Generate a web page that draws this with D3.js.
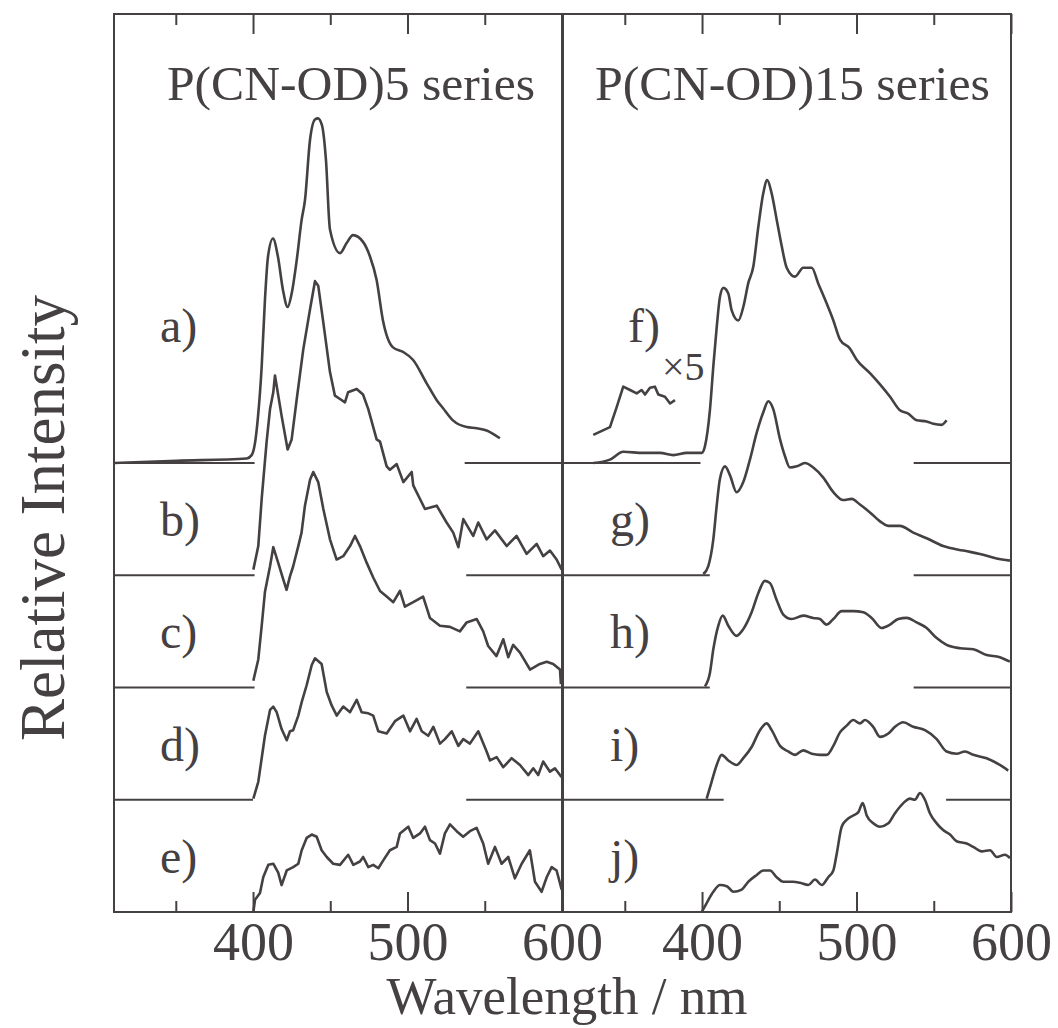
<!DOCTYPE html>
<html lang="en">
<head>
  <meta charset="UTF-8">
  <title>P(CN-OD) emission spectra</title>
  <style>
    html, body {
      margin: 0;
      background-color: #ffffff;
    }
    svg text {
      font-family: "Liberation Serif", "Times New Roman", serif;
      fill: #454042;
    }
  </style>
</head>
<body>
  <svg id="chart" width="1058" height="1028"></svg>

  <script src="https://cdnjs.cloudflare.com/ajax/libs/d3/7.8.5/d3.min.js"></script>
  <script>
    // wavelength (nm), relative intensity (one unit = one strip of the stack)
    const seriesA = [[310,0],[350.6,0.02],[395.9,0.04],[399.1,0.07],[401.3,0.18],[403.2,0.41],[405.6,0.86],[407.7,1.45],[409.7,1.84],[412.9,2.0],[416.1,1.84],[419.4,1.54],[422.4,1.39],[425,1.51],[428.3,1.81],[431.5,2.17],[433.6,2.34],[436.9,2.88],[440.1,3.06],[442,3.07],[444.6,3.01],[447.2,2.7],[449.8,2.08],[456.3,1.87],[460.6,1.96],[464.7,2.03],[471.2,1.97],[475.7,1.84],[480,1.63],[484.1,1.27],[490.6,1.03],[497.1,0.99],[503.5,0.92],[512.4,0.71],[518.9,0.56],[522.9,0.49],[529.4,0.38],[538.3,0.32],[544.8,0.31],[551.2,0.29],[559.8,0.22]];
    const seriesB = [[400.2,0.05],[403.4,0.26],[405.6,0.68],[408.8,1.19],[411,1.48],[413.1,1.63],[414.2,1.78],[418.5,1.42],[422.4,1.12],[425,1.21],[428.3,1.57],[432.5,2.01],[436.9,2.37],[440.1,2.62],[442.2,2.58],[445.5,2.25],[449.8,1.81],[453,1.6],[456.3,1.57],[459.5,1.54],[461.5,1.63],[467.1,1.66],[471.2,1.61],[474.6,1.48],[480,1.21],[482.2,1.19],[486.5,0.97],[488.6,0.94],[493,0.99],[497.3,0.83],[502.7,0.92],[503.7,0.8],[511.3,0.59],[518.9,0.62],[525.3,0.47],[529.6,0.38],[532.9,0.25],[536.1,0.5],[542.5,0.35],[545.8,0.47],[551.2,0.32],[556.6,0.4],[564.2,0.26],[570.6,0.35],[577.1,0.19],[583.6,0.28],[587.8,0.17],[592.2,0.22],[596.5,0.14],[599.8,0.05]];
    const seriesC = [[400.2,0.06],[403.4,0.25],[405.6,0.55],[407.7,0.85],[411,1.08],[413.1,1.25],[416.3,1.11],[419.6,0.96],[421.7,0.87],[423.9,0.99],[426,1.08],[429.3,1.26],[431.4,1.38],[433.6,1.62],[436.9,1.85],[439,1.92],[442.2,1.83],[445.5,1.59],[449.8,1.32],[454.1,1.14],[458.4,1.17],[462.8,1.26],[466,1.35],[469.2,1.26],[473.6,1.11],[477.8,0.98],[482.2,0.86],[486.5,0.81],[490.8,0.76],[495.1,0.86],[498.3,0.72],[503.7,0.76],[510.1,0.81],[514.5,0.62],[521,0.55],[527.5,0.54],[533.9,0.5],[538.3,0.58],[544.8,0.61],[549,0.5],[552.2,0.37],[557.6,0.28],[562,0.43],[565.2,0.27],[568.4,0.38],[572.8,0.31],[579.3,0.16],[585.7,0.21],[590.1,0.23],[594.3,0.21],[598.7,0.16],[599.3,0.03]];
    const seriesD = [[400.2,0.01],[403.4,0.16],[405.6,0.37],[407.7,0.57],[411,0.8],[413.1,0.83],[415.3,0.78],[418.5,0.63],[421.8,0.53],[423.9,0.61],[426,0.62],[429.3,0.75],[431.5,0.87],[434.7,1.02],[438,1.2],[440.1,1.26],[444.4,1.21],[447.7,0.96],[450.9,0.84],[454.2,0.75],[458.4,0.83],[462.8,0.78],[467.1,0.89],[470.3,0.78],[474.6,0.77],[477.8,0.75],[481.1,0.61],[486.5,0.59],[491.9,0.7],[497.3,0.75],[501.6,0.61],[505.9,0.72],[509.2,0.61],[513.4,0.57],[516.7,0.65],[521,0.5],[524.2,0.54],[528.6,0.61],[532.9,0.48],[536.1,0.54],[540.4,0.5],[545.8,0.61],[551.2,0.43],[553.4,0.35],[557.7,0.38],[562,0.29],[567.4,0.37],[572.8,0.31],[578.2,0.22],[581.4,0.28],[584.6,0.22],[587.8,0.34],[592.2,0.25],[595.4,0.28],[598.7,0.22],[600,0.2]];
    const seriesE = [[400.2,0],[401.3,0.11],[404.5,0.17],[406.6,0.31],[409.9,0.42],[413.1,0.43],[416.3,0.35],[418.5,0.24],[421.8,0.37],[426,0.4],[429.3,0.43],[431.5,0.55],[434.7,0.66],[438,0.69],[441.2,0.67],[444.4,0.55],[447.7,0.49],[451.9,0.43],[456.3,0.42],[461.6,0.51],[464.9,0.42],[469.2,0.45],[471.3,0.49],[474.6,0.4],[477.8,0.42],[481.1,0.39],[484.3,0.46],[488.6,0.55],[493,0.58],[495.1,0.7],[500.5,0.76],[503.7,0.66],[508.1,0.7],[511.3,0.76],[514.5,0.64],[517.8,0.61],[521,0.52],[524.2,0.7],[527.5,0.78],[531.8,0.72],[536,0.67],[540.4,0.72],[544.7,0.75],[549,0.61],[552.2,0.43],[556.6,0.58],[560.9,0.43],[565.2,0.49],[569.5,0.3],[573.9,0.43],[579.2,0.55],[582.5,0.27],[586.8,0.18],[590.1,0.31],[593.3,0.4],[596.5,0.37],[599.8,0.2]];

    const seriesF = [[329.6,0],[340.4,0.03],[349,0.1],[362,0.09],[372.8,0.09],[381.4,0.07],[390.1,0.09],[399.8,0.09],[401.9,0.15],[405.1,0.47],[407.3,0.86],[409.5,1.21],[411.6,1.48],[413.8,1.56],[417,1.51],[419.2,1.36],[423.5,1.27],[426.7,1.39],[429.9,1.6],[433.2,1.75],[436.4,2.1],[439.6,2.4],[442.2,2.52],[445.1,2.4],[448.3,2.17],[451.6,1.93],[454.8,1.74],[460.2,1.66],[465.5,1.74],[471,1.74],[475.2,1.6],[480.7,1.42],[485,1.27],[489.3,1.1],[495.7,1.02],[500.1,0.92],[508.7,0.8],[515.2,0.7],[521.7,0.59],[528.1,0.47],[533.5,0.44],[538.9,0.38],[545.4,0.37],[549.7,0.35],[555.1,0.34],[558.3,0.38]];
    const seriesF5 = [[329.6,0.25],[340.4,0.32],[344.8,0.5],[349,0.68],[353.4,0.65],[357.7,0.62],[360.9,0.65],[363.1,0.61],[366.3,0.67],[369.5,0.68],[371.7,0.61],[376,0.59],[379.3,0.53],[382.5,0.56]];
    const seriesG = [[400.8,0.01],[404,0.08],[407.3,0.32],[409.5,0.62],[411.6,0.86],[414.9,0.97],[418.1,0.89],[422.4,0.74],[426.7,0.83],[431,1.03],[435.4,1.27],[439.6,1.45],[442.9,1.55],[446.1,1.48],[450.5,1.21],[453.7,1.06],[456.9,0.96],[461.3,0.97],[466.6,1.0],[472,0.96],[478.5,0.87],[485,0.74],[491.4,0.67],[496.9,0.68],[502.2,0.63],[508.7,0.56],[515.2,0.48],[520.5,0.44],[528.1,0.44],[536.7,0.38],[545.4,0.33],[556.1,0.26],[569.1,0.22],[579.9,0.19],[590.7,0.15],[599.3,0.13]];
    const seriesH = [[401.9,0.01],[405.1,0.13],[407.3,0.34],[410.5,0.55],[413.4,0.64],[417,0.55],[422.4,0.46],[426.7,0.52],[432.1,0.67],[436.4,0.84],[440.7,0.95],[444,0.93],[448.3,0.78],[452.6,0.65],[458,0.61],[465.5,0.64],[472,0.62],[476.3,0.61],[480.7,0.56],[485,0.61],[490.4,0.68],[497.9,0.68],[504.4,0.67],[509.8,0.62],[516.3,0.53],[521.7,0.56],[527,0.61],[532.5,0.62],[538.9,0.58],[545.4,0.53],[551.9,0.44],[558.3,0.38],[567,0.35],[575.6,0.34],[584.2,0.29],[592.8,0.27],[599.3,0.23]];
    const seriesI = [[403,0.01],[406.2,0.16],[409.5,0.31],[412.7,0.4],[417,0.35],[422.4,0.31],[426.7,0.37],[432.1,0.47],[437.5,0.62],[441.8,0.68],[445.1,0.62],[450.5,0.48],[455.8,0.43],[460.2,0.4],[465.5,0.44],[471,0.41],[476.3,0.4],[480.7,0.4],[485,0.48],[489.3,0.6],[493.6,0.66],[497.9,0.71],[502.2,0.68],[505.5,0.71],[510.8,0.65],[515.2,0.56],[520.6,0.59],[524.9,0.65],[530.3,0.69],[536.7,0.65],[544.3,0.62],[551.9,0.54],[558.3,0.43],[564.8,0.41],[570.2,0.43],[575.6,0.4],[584.2,0.37],[592.8,0.31],[598.2,0.26]];
    const seriesJ = [[399.8,0],[403,0.08],[407.3,0.18],[411.6,0.24],[416,0.23],[420.3,0.18],[425.7,0.2],[430,0.27],[435.4,0.33],[439.7,0.37],[444,0.37],[448.3,0.31],[452.6,0.27],[459.1,0.27],[463.4,0.26],[468.8,0.24],[473.1,0.29],[477.5,0.24],[481.7,0.31],[485,0.37],[487.2,0.52],[490.4,0.76],[493.6,0.82],[497.9,0.86],[501.2,0.89],[504,0.97],[506.6,0.86],[510.8,0.79],[515.2,0.76],[520.6,0.79],[524.9,0.88],[530.3,0.97],[534.6,1.01],[537.8,1.0],[541.1,1.06],[544.3,1.0],[547.5,0.88],[551.9,0.79],[556.1,0.73],[560.5,0.69],[564.8,0.63],[571.3,0.61],[575.6,0.58],[581.1,0.54],[586.4,0.55],[590.8,0.49],[596.1,0.51],[599.3,0.48]];

    const leftLabels = ['a)', 'b)', 'c)', 'd)', 'e)'];
    const rightLabels = ['f)', 'g)', 'h)', 'i)', 'j)'];
    const stackOffsets = [4, 3, 2, 1, 0];
    // which spectra are noisy (drawn with straight segments)
    const leftNoisy = [false, true, true, true, true];
    const rightNoisy = [false, false, false, false, false];
    // baseline stubs per row: [offset, start nm, end nm]
    const leftBaselines = [[4,310,401],[4,537,600],[3,310,401],[3,538,600],[2,310,401],[2,538,600],[1,310,400],[1,538,600]];
    const rightBaselines = [[4,310,399],[4,537,600],[3,310,405],[3,537,600],[2,310,405],[2,537,600],[1,310,414],[1,558,600]];
    const majorTicks = [400, 500, 600];
    const minorTicks = [350, 450, 550];

    const svg = d3.select('#chart');
    const ink = '#454042';
    const plotTop = 14, plotBottom = 912;

    const y = d3.scaleLinear().domain([0, 8]).range([plotBottom, plotTop]);

    const panels = [
      {x0: 114, x1: 562, series: [seriesA, seriesB, seriesC, seriesD, seriesE], noisy: leftNoisy, labels: leftLabels, baselines: leftBaselines, title: 'P(CN-OD)5 series', titleX: 167, titleLen: 368},
      {x0: 563, x1: 1011, series: [seriesF, seriesG, seriesH, seriesI, seriesJ], noisy: rightNoisy, labels: rightLabels, baselines: rightBaselines, title: 'P(CN-OD)15 series', titleX: 595, titleLen: 395}
    ];

    panels.forEach((p, pi) => {
      const x = d3.scaleLinear().domain([310, 600]).range([p.x0, p.x1]);
      const g = svg.append('g');

      g.append('rect')
        .attr('x', p.x0).attr('y', plotTop)
        .attr('width', p.x1 - p.x0).attr('height', plotBottom - plotTop)
        .attr('fill', 'none').attr('stroke', ink).attr('stroke-width', 2);

      // bottom axis, major ticks with labels
      const bAxis = g.append('g').attr('transform', `translate(0,${plotBottom})`)
        .call(d3.axisBottom(x).tickValues(majorTicks).tickSizeInner(-20).tickSizeOuter(0).tickFormat(d3.format('d')));
      bAxis.select('.domain').remove();
      bAxis.selectAll('line').attr('stroke', ink).attr('stroke-width', 2);
      bAxis.selectAll('text').attr('y', 48).attr('dy', 0)
        .attr('font-size', 54).attr('fill', ink);

      const bMinor = g.append('g').attr('transform', `translate(0,${plotBottom})`)
        .call(d3.axisBottom(x).tickValues(minorTicks).tickSizeInner(-11).tickSizeOuter(0).tickFormat(''));
      bMinor.select('.domain').remove();
      bMinor.selectAll('line').attr('stroke', ink).attr('stroke-width', 2);

      // top axis ticks
      [[majorTicks, 20], [minorTicks, 11]].forEach(([vals, len]) => {
        const t = g.append('g').attr('transform', `translate(0,${plotTop})`)
          .call(d3.axisTop(x).tickValues(vals).tickSizeInner(-len).tickSizeOuter(0).tickFormat(''));
        t.select('.domain').remove();
        t.selectAll('line').attr('stroke', ink).attr('stroke-width', 2);
      });

      // baseline stubs
      g.selectAll('line.base')
        .data(p.baselines)
        .join('line')
        .attr('class', 'base')
        .attr('x1', d => x(d[1])).attr('x2', d => x(d[2]))
        .attr('y1', d => y(d[0])).attr('y2', d => y(d[0]))
        .attr('stroke', ink).attr('stroke-width', 2);

      // spectra
      p.series.forEach((s, i) => {
        const off = stackOffsets[i];
        const line = d3.line()
          .x(d => x(d[0]))
          .y(d => y(off + d[1]))
          .curve(p.noisy[i] ? d3.curveLinear : d3.curveMonotoneX);
        g.append('path')
          .attr('d', line(s))
          .attr('fill', 'none')
          .attr('stroke', ink)
          .attr('stroke-width', 2.6)
          .attr('stroke-linejoin', 'round');
      });

      if (pi === 1) {
        const line = d3.line().x(d => x(d[0])).y(d => y(4 + d[1]));
        g.append('path')
          .attr('d', line(seriesF5))
          .attr('fill', 'none')
          .attr('stroke', ink)
          .attr('stroke-width', 2.6)
          .attr('stroke-linejoin', 'round');
      }

      // row labels
      const labelX = pi === 0 ? 160 : 610;
      const labelY = [342, 536, 648, 761, 873];
      g.selectAll('text.row')
        .data(p.labels)
        .join('text')
        .attr('class', 'row')
        .attr('x', (d, i) => (pi === 1 && i === 0) ? 628 : labelX)
        .attr('y', (d, i) => labelY[i])
        .attr('font-size', 48)
        .text(d => d);

      g.append('text')
        .attr('x', p.titleX).attr('y', 100)
        .attr('font-size', 48)
        .attr('textLength', p.titleLen)
        .attr('lengthAdjust', 'spacingAndGlyphs')
        .text(p.title);
    });

    svg.append('text')
      .attr('x', 662).attr('y', 380)
      .attr('font-size', 40)
      .text('×5');

    svg.append('text')
      .attr('x', 567).attr('y', 1014)
      .attr('text-anchor', 'middle')
      .attr('font-size', 53)
      .text('Wavelength / nm');

    svg.append('text')
      .attr('transform', 'translate(64,518) rotate(-90)')
      .attr('text-anchor', 'middle')
      .attr('font-size', 63)
      .text('Relative Intensity');
  </script>
</body>
</html>
